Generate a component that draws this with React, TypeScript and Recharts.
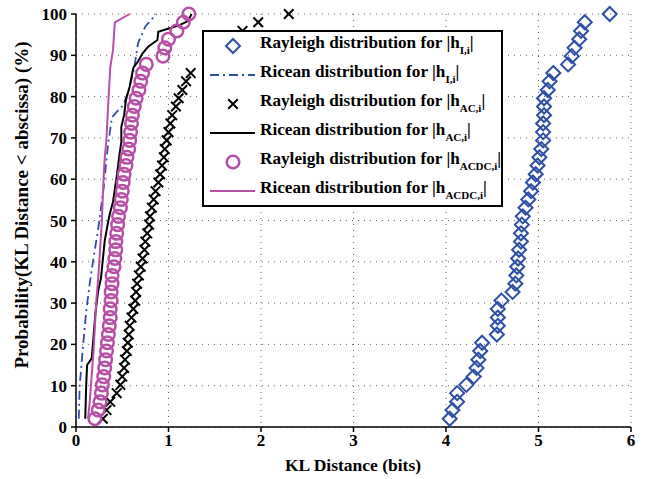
import { ScatterChart, Scatter, XAxis, YAxis, CartesianGrid, Legend } from 'recharts';

// empirical CDF levels (%), 49 samples per set
const PROB = [
  2.0, 4.1, 6.1, 8.2, 10.2, 12.2, 14.3, 16.3, 18.4, 20.4, 22.4, 24.5, 26.5, 28.6, 30.6, 32.7, 34.7,
  36.7, 38.8, 40.8, 42.9, 44.9, 46.9, 49.0, 51.0, 53.1, 55.1, 57.1, 59.2, 61.2, 63.3, 65.3, 67.3,
  69.4, 71.4, 73.5, 75.5, 77.6, 79.6, 81.6, 83.7, 85.7, 87.8, 89.8, 91.8, 93.9, 95.9, 98.0, 100,
];

// Rayleigh distribution for |h_I,i|
const RAYLEIGH_I = [
  4.04, 4.07, 4.12, 4.12, 4.22, 4.3, 4.33, 4.35, 4.37, 4.39, 4.55, 4.56, 4.56, 4.56, 4.6, 4.72, 4.75,
  4.76, 4.77, 4.78, 4.79, 4.81, 4.81, 4.82, 4.83, 4.86, 4.89, 4.92, 4.94, 4.97, 4.99, 5.01, 5.03,
  5.05, 5.05, 5.05, 5.06, 5.06, 5.06, 5.1, 5.12, 5.16, 5.32, 5.36, 5.39, 5.44, 5.46, 5.5, 5.77,
];

// Rayleigh distribution for |h_AC,i|
const RAYLEIGH_AC = [
  0.29, 0.33, 0.37, 0.44, 0.48, 0.5, 0.52, 0.53, 0.55, 0.56, 0.57, 0.58, 0.6, 0.62, 0.64, 0.65, 0.66,
  0.68, 0.7, 0.72, 0.74, 0.75, 0.77, 0.79, 0.8, 0.82, 0.84, 0.86, 0.89, 0.91, 0.93, 0.95, 0.96,
  0.98, 1.0, 1.02, 1.04, 1.08, 1.11, 1.15, 1.19, 1.24, 1.45, 1.55, 1.63, 1.72, 1.8, 1.97, 2.3,
];

// Rayleigh distribution for |h_ACDC,i|
const RAYLEIGH_ACDC = [
  0.205, 0.24, 0.26, 0.275, 0.285, 0.3, 0.31, 0.32, 0.33, 0.34, 0.35, 0.36, 0.37, 0.37, 0.38, 0.38, 0.39,
  0.39, 0.41, 0.42, 0.43, 0.43, 0.44, 0.45, 0.46, 0.48, 0.49, 0.5, 0.51, 0.52, 0.54, 0.55, 0.57,
  0.58, 0.59, 0.6, 0.61, 0.63, 0.65, 0.68, 0.7, 0.72, 0.76, 0.94, 0.96, 1.0, 1.09, 1.16, 1.22,
];

// Ricean curves
const RICEAN_I_X = [0.03, 0.04, 0.07, 0.11, 0.15, 0.19, 0.24, 0.27, 0.3, 0.33, 0.35, 0.39, 0.46, 0.51, 0.57, 0.63, 0.67, 0.75, 0.87];
const RICEAN_I_Y = [2, 10, 18, 28, 35, 41, 48, 53, 58, 65, 69, 75, 76.8, 77.8, 81.6, 87, 92.9, 97, 100];

const RICEAN_AC_X = [
  0.1, 0.11, 0.12, 0.17, 0.19, 0.21, 0.24, 0.27, 0.31, 0.35, 0.37, 0.4, 0.44, 0.47, 0.49, 0.49, 0.52,
  0.54, 0.58, 0.62, 0.67, 0.72, 0.78, 0.88, 0.89, 1.02, 1.12, 1.21, 1.25,
];
const RICEAN_AC_Y = [
  2, 10, 15, 16.6, 22, 27.6, 33, 36, 45, 50, 52, 54.5, 60.6, 66, 69, 72.7, 75.5, 79.2, 82.4, 87, 88.5,
  90.5, 92.1, 93.7, 95.7, 96.6, 97.3, 98.3, 100,
];

const RICEAN_ACDC_X = [0.13, 0.15, 0.19, 0.22, 0.24, 0.26, 0.28, 0.29, 0.3, 0.31, 0.33, 0.35, 0.37, 0.4, 0.42, 0.58];
const RICEAN_ACDC_Y = [2, 6.5, 18.6, 30.7, 36, 43, 50, 56, 61, 65, 70, 79, 87, 91.3, 98, 100];

const X_TICKS = [0, 1, 2, 3, 4, 5, 6];
const Y_TICKS = [0, 10, 20, 30, 40, 50, 60, 70, 80, 90, 100];

const BLUE = '#2f4fa6';
const MAGENTA = '#b84fa6';
const FONT = '"Liberation Serif", "Times New Roman", serif';

const toPoints = (xs: number[], ys: number[]) => xs.map((x, i) => ({ x, y: ys[i] }));

const Diamond = ({ cx, cy }: any) => (
  <path
    d={`M${cx},${cy - 7} L${cx + 7},${cy} L${cx},${cy + 7} L${cx - 7},${cy} Z`}
    fill="none"
    stroke={BLUE}
    strokeWidth={2}
  />
);
const Cross = ({ cx, cy }: any) => (
  <path
    d={`M${cx - 4.8},${cy - 4.8} L${cx + 4.8},${cy + 4.8} M${cx - 4.8},${cy + 4.8} L${cx + 4.8},${cy - 4.8}`}
    stroke="#000"
    strokeWidth={2}
  />
);
const Ring = ({ cx, cy }: any) => (
  <circle cx={cx} cy={cy} r={6.3} fill="none" stroke={MAGENTA} strokeWidth={2.5} />
);
const NoDot = () => <g />;

const LEGEND_ROWS = [
  { mark: 'diamond', name: 'Rayleigh', sub: 'I,i' },
  { mark: 'dashdot', name: 'Ricean', sub: 'I,i' },
  { mark: 'cross', name: 'Rayleigh', sub: 'AC,i' },
  { mark: 'black', name: 'Ricean', sub: 'AC,i' },
  { mark: 'ring', name: 'Rayleigh', sub: 'ACDC,i' },
  { mark: 'magenta', name: 'Ricean', sub: 'ACDC,i' },
];

const LegendMark = ({ mark }: { mark: string }) => {
  const c = 25;
  const m = 14;
  return (
    <svg width={50} height={29} style={{ display: 'block', flexShrink: 0 }}>
      {mark === 'diamond' && <Diamond cx={c} cy={m} />}
      {mark === 'cross' && <Cross cx={c} cy={m} />}
      {mark === 'ring' && <Ring cx={c} cy={m} />}
      {mark === 'dashdot' && (
        <line x1={2} x2={47} y1={m} y2={m} stroke={BLUE} strokeWidth={2} strokeDasharray="9 4 2 4" />
      )}
      {mark === 'black' && <line x1={2} x2={47} y1={m} y2={m} stroke="#000" strokeWidth={2.2} />}
      {mark === 'magenta' && <line x1={2} x2={47} y1={m} y2={m} stroke={MAGENTA} strokeWidth={2} />}
    </svg>
  );
};

const LegendBox = () => (
  <div
    style={{
      width: 301,
      height: 177,
      boxSizing: 'border-box',
      border: '2px solid #000',
      background: '#fff',
      paddingLeft: 4,
      fontFamily: FONT,
      fontWeight: 'bold',
      fontSize: 17.2,
      color: '#000',
    }}
  >
    {LEGEND_ROWS.map((r) => (
      <div key={r.mark} style={{ display: 'flex', alignItems: 'center', height: 29 }}>
        <LegendMark mark={r.mark} />
        <span style={{ marginLeft: 2, whiteSpace: 'nowrap', lineHeight: '29px' }}>
          {r.name} distribution for |h
          <span style={{ fontSize: 11, verticalAlign: -6 }}>{r.sub}</span>|
        </span>
      </div>
    ))}
  </div>
);

const tickStyle = { fill: '#000', fontSize: 17, fontWeight: 'bold', fontFamily: FONT };

export default function App() {
  return (
    <div style={{ position: 'absolute', left: 0, top: 0, width: 649, height: 479, background: '#fff' }}>
      <ScatterChart width={649} height={479} margin={{ top: 14, right: 18, bottom: 12, left: 16 }}>
        <CartesianGrid stroke="#666" strokeDasharray="1 5" strokeWidth={1} />
        <XAxis
          type="number"
          dataKey="x"
          domain={[0, 6]}
          ticks={X_TICKS}
          height={40}
          tick={tickStyle}
          tickSize={5}
          axisLine={{ stroke: '#000', strokeWidth: 1.5 }}
          tickLine={{ stroke: '#000', strokeWidth: 1.5 }}
          label={{
            content: () => (
              <text x={353} y={471} textAnchor="middle" fontFamily={FONT} fontWeight="bold" fontSize={17.5} fill="#000">
                KL Distance (bits)
              </text>
            ),
          }}
        />
        <YAxis
          type="number"
          dataKey="y"
          domain={[0, 100]}
          ticks={Y_TICKS}
          width={60}
          tick={tickStyle}
          tickSize={5}
          tickMargin={4}
          axisLine={{ stroke: '#000', strokeWidth: 1.5 }}
          tickLine={{ stroke: '#000', strokeWidth: 1.5 }}
          label={{
            content: () => (
              <text
                x={0}
                y={0}
                transform="translate(28,205) rotate(-90)"
                textAnchor="middle"
                fontFamily={FONT}
                fontWeight="bold"
                fontSize={19}
                fill="#000"
              >
                Probability(KL Distance &lt; abscissa) (%)
              </text>
            ),
          }}
        />
        <Scatter data={toPoints(RAYLEIGH_I, PROB)} shape={Diamond} isAnimationActive={false} />
        <Scatter
          data={toPoints(RICEAN_I_X, RICEAN_I_Y)}
          shape={NoDot}
          line={{ stroke: BLUE, strokeWidth: 1.8, strokeDasharray: '9 4 2 4' }}
          isAnimationActive={false}
        />
        <Scatter data={toPoints(RAYLEIGH_AC, PROB)} shape={Cross} isAnimationActive={false} />
        <Scatter
          data={toPoints(RICEAN_AC_X, RICEAN_AC_Y)}
          shape={NoDot}
          line={{ stroke: '#000', strokeWidth: 2 }}
          isAnimationActive={false}
        />
        <Scatter data={toPoints(RAYLEIGH_ACDC, PROB)} shape={Ring} isAnimationActive={false} />
        <Scatter
          data={toPoints(RICEAN_ACDC_X, RICEAN_ACDC_Y)}
          shape={NoDot}
          line={{ stroke: MAGENTA, strokeWidth: 2 }}
          isAnimationActive={false}
        />
        <Legend
          layout="vertical"
          align="center"
          verticalAlign="middle"
          content={<LegendBox />}
          wrapperStyle={{ left: 202, top: 30, width: 301, height: 177 }}
        />
      </ScatterChart>
    </div>
  );
}
